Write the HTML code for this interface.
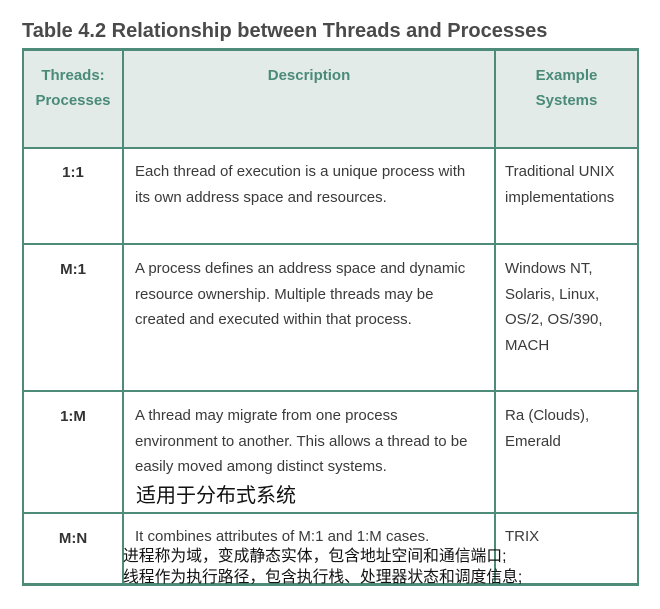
<!DOCTYPE html>
<html><head><meta charset="utf-8"><style>
body{margin:0;width:660px;height:609px;background:#fff;position:relative;font-family:"Liberation Sans",Arial,sans-serif;overflow:hidden}
.a{position:absolute;white-space:nowrap}
.h{position:absolute;background:#4f8b79}
.t{color:#3a3a3a;font-size:15px;line-height:25.5px}
.g{color:#4a8b77;font-weight:bold;font-size:15px;line-height:25px;text-align:center}
.b{font-weight:bold;color:#333;font-size:15px;text-align:center}
.cn{font-family:"Liberation Sans","Noto Sans CJK SC",sans-serif;color:#111}
</style></head><body>
<div class="a" style="left:22px;top:20px;font-size:20px;font-weight:bold;color:#4a4a4a">Table 4.2 Relationship between Threads and Processes</div>
<div class="a" style="left:23px;top:49px;width:615px;height:99px;background:#e3ebe8"></div>
<div class="h" style="left:23px;top:48px;width:616px;height:3px"></div>
<div class="h" style="left:23px;top:147px;width:616px;height:2px"></div>
<div class="h" style="left:23px;top:243px;width:616px;height:2px"></div>
<div class="h" style="left:23px;top:390px;width:616px;height:2px"></div>
<div class="h" style="left:23px;top:512px;width:616px;height:2px"></div>
<div class="h" style="left:23px;top:583px;width:616px;height:3px"></div>
<div class="h" style="left:22px;top:48px;width:2px;height:538px"></div>
<div class="h" style="left:122px;top:48px;width:2px;height:538px"></div>
<div class="h" style="left:494px;top:48px;width:2px;height:538px"></div>
<div class="h" style="left:637px;top:48px;width:2px;height:538px"></div>
<div class="a g" style="left:24px;top:63px;width:98px">Threads:<br>Processes</div>
<div class="a g" style="left:124px;top:63px;width:370px">Description</div>
<div class="a g" style="left:496px;top:63px;width:141px">Example<br>Systems</div>

<div class="a b" style="left:24px;top:164px;width:98px">1:1</div>
<div class="a t" style="left:135px;top:159px">Each thread of execution is a unique process with<br>its own address space and resources.</div>
<div class="a t" style="left:505px;top:159px">Traditional UNIX<br>implementations</div>

<div class="a b" style="left:24px;top:261px;width:98px">M:1</div>
<div class="a t" style="left:135px;top:256px">A process defines an address space and dynamic<br>resource ownership. Multiple threads may be<br>created and executed within that process.</div>
<div class="a t" style="left:505px;top:256px">Windows NT,<br>Solaris, Linux,<br>OS/2, OS/390,<br>MACH</div>

<div class="a b" style="left:24px;top:408px;width:98px">1:M</div>
<div class="a t" style="left:135px;top:403px">A thread may migrate from one process<br>environment to another. This allows a thread to be<br>easily moved among distinct systems.</div>
<div class="a t" style="left:505px;top:403px">Ra (Clouds),<br>Emerald</div>
<div class="a cn" style="left:136px;top:483px;font-size:20px;line-height:26px">适用于分布式系统</div>

<div class="a b" style="left:24px;top:530px;width:98px">M:N</div>
<div class="a t" style="left:135px;top:524px">It combines attributes of M:1 and 1:M cases.</div>
<div class="a t" style="left:505px;top:524px">TRIX</div>
<div class="a cn" style="left:123px;top:546px;font-size:15.8px;line-height:21px">进程称为域，变成静态实体，包含地址空间和通信端口;<br>线程作为执行路径，包含执行栈、处理器状态和调度信息;</div>
</body></html>
